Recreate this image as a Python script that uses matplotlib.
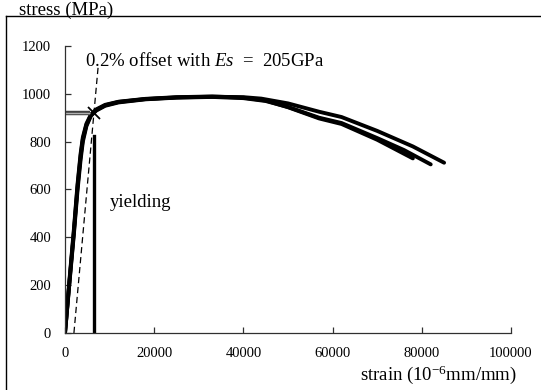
import matplotlib
matplotlib.use('Agg')
import matplotlib.pyplot as plt
from matplotlib.lines import Line2D

plt.rcParams['font.family'] = ['Liberation Serif', 'DejaVu Serif']
plt.rcParams['mathtext.fontset'] = 'custom'
plt.rcParams['mathtext.rm'] = 'Liberation Serif'
plt.rcParams['mathtext.it'] = 'Liberation Serif:italic'
plt.rcParams['mathtext.default'] = 'regular'

# --- 試體應力-應變資料 (strain 10^-6 mm/mm, stress MPa) ---
strain_a = [0, 1000, 2000, 2800, 3500, 4000, 4800, 5800, 7000, 9000, 12000, 18000,
            25000, 33000, 40000, 44000, 50000, 57000, 62000, 70000, 78000, 85000]
stress_a = [0, 215, 425, 610, 740, 810, 870, 910, 932, 952, 966, 978,
            985, 988, 986, 980, 960, 925, 903, 845, 780, 712]

strain_b = [0, 1000, 2000, 2800, 3500, 4000, 4800, 5800, 7000, 9000, 12000, 18000,
            25000, 33000, 40000, 45000, 50000, 57000, 62000, 70000, 76000, 82000]
stress_b = [0, 210, 415, 595, 725, 800, 865, 908, 930, 950, 964, 977,
            984, 987, 982, 970, 945, 900, 878, 815, 765, 705]

strain_c = [0, 1000, 2000, 2800, 3500, 4000, 4800, 5800, 7000, 9000, 12000, 18000,
            25000, 33000, 40000, 45000, 50000, 57000, 62000, 70000, 78000]
stress_c = [0, 222, 435, 620, 750, 818, 875, 913, 935, 954, 967, 979,
            986, 989, 984, 972, 944, 897, 874, 808, 730]

# 0.2% offset 線
offset_strain = 2000
es_gpa = 205
offset_top = 1120
offset_x = [offset_strain, offset_strain + offset_top / (es_gpa * 1e3) * 1e6]
offset_y = [0, offset_top]

# 降伏點
yield_strain = 6500
yield_stress = 920
yield_line_x = [6600, 6600]
yield_line_y = [0, 825]

x_ticks = [0, 20000, 40000, 60000, 80000, 100000]
y_ticks = [0, 200, 400, 600, 800, 1000, 1200]

fig = plt.figure(figsize=(5.41, 3.90), dpi=100)
ax = fig.add_axes([65 / 541, 1 - 333 / 390, 446 / 541, 287 / 390])

for sx, sy in [(strain_a, stress_a), (strain_b, stress_b), (strain_c, stress_c)]:
    ax.plot(sx, sy, color='black', linewidth=2.8, solid_capstyle='round',
            solid_joinstyle='round')

ax.plot(offset_x, offset_y, color='black', linewidth=0.9, dashes=(5, 3))
ax.plot(yield_line_x, yield_line_y, color='black', linewidth=2.4)

# 水平雙線標示降伏應力
ax.plot([0, 5600], [yield_stress, yield_stress], color='#404040', linewidth=3.2,
        solid_capstyle='butt')
ax.plot([0, 5600], [yield_stress, yield_stress], color='#b0b0b0', linewidth=1.0,
        solid_capstyle='butt')
ax.plot([yield_strain], [yield_stress], marker='x', markersize=9, mew=1.3,
        color='black')

ax.set_xlim(0, 100000)
ax.set_ylim(0, 1200)
ax.set_xticks(x_ticks)
ax.set_yticks(y_ticks)
ax.spines['top'].set_visible(False)
ax.spines['right'].set_visible(False)
for s in ['left', 'bottom']:
    ax.spines[s].set_color('#303030')
    ax.spines[s].set_linewidth(0.9)
ax.tick_params(axis='both', direction='in', length=4, width=0.9, color='#303030',
               labelsize=10.5)
ax.tick_params(axis='y', pad=10)
ax.tick_params(axis='x', pad=10)

ax.text(4500, 1115, r'0.2% offset with $\mathit{Es}$  =  205GPa', fontsize=13.5,
        ha='left', va='baseline')
ax.text(10000, 525, 'yielding', fontsize=13.5, ha='left', va='baseline')

# 外框
fig.add_artist(Line2D([6 / 541, 1.0], [1 - 16 / 390, 1 - 16 / 390],
                      transform=fig.transFigure, color='black', linewidth=1))
fig.add_artist(Line2D([6 / 541, 6 / 541], [0, 1 - 16 / 390],
                      transform=fig.transFigure, color='black', linewidth=1))

fig.text(19 / 541, 1 - 15 / 390, 'stress (MPa)', fontsize=13.5, ha='left',
         va='baseline')
fig.text(517 / 541, 1 - 380 / 390, r'strain (10$^{-6}$mm/mm)', fontsize=13.5,
         ha='right', va='baseline')

fig.savefig('out.png', dpi=100)
